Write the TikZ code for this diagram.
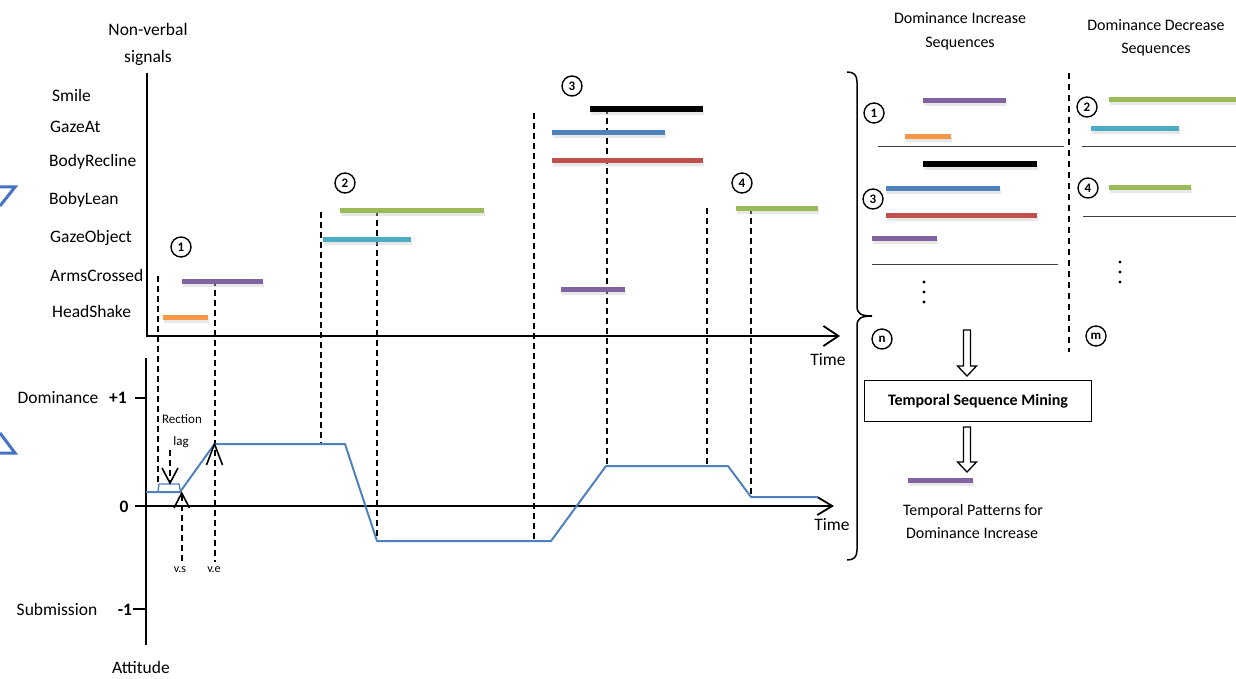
\documentclass[tikz,border=0pt]{standalone}
\usepackage{fontspec}
\setmainfont{Carlito}
\usetikzlibrary{arrows.meta,calc}
\definecolor{cOrange}{HTML}{F79646}
\definecolor{cPurple}{HTML}{8064A2}
\definecolor{cGreen}{HTML}{9BBB59}
\definecolor{cCyan}{HTML}{4BACC6}
\definecolor{cBlue}{HTML}{4F81BD}
\definecolor{cRed}{HTML}{C0504D}
\definecolor{cTri}{HTML}{4472C4}
\newcommand\sigbar[5][5]{%
  \draw[line width=#1pt, gray!45, opacity=.4] (#3+1,#5+3) -- (#4+1,#5+3);
  \draw[line width=#1pt, #2] (#3,#5) -- (#4,#5);}
\newcommand\hollowarrow[2]{%
  \draw[line width=1.3pt, line join=miter, fill=white]
    ($(#1)+(-3.5,0)$) -- ($(#2)+(-3.5,-10)$) -- ($(#2)+(-9.5,-10)$) -- (#2)
    -- ($(#2)+(9.5,-10)$) -- ($(#2)+(3.5,-10)$) -- ($(#1)+(3.5,0)$) -- cycle;}
\begin{document}
\begin{tikzpicture}[x=1pt,y=-1pt, font=\fontsize{17.5}{21}\selectfont,
  txt/.style={inner sep=0pt, text height=13.2pt, text depth=0pt},
  rowlbl/.style={txt, anchor=west},
  axis/.style={line width=1.8pt},
  dline/.style={line width=2pt, dash pattern=on 6pt off 4pt},
  sepline/.style={line width=1pt, black!75},
  circ/.style={circle, draw, line width=1.4pt, minimum size=20pt, inner sep=0pt,
     font=\fontsize{13}{13}\selectfont\bfseries},
  curve/.style={cBlue, line width=2pt, line join=round},
  barb/.style={line width=1.6pt, line join=miter},
  small/.style={inner sep=0pt, text height=9.8pt, text depth=0pt, font=\fontsize{13}{15}\selectfont},
  tiny/.style={inner sep=0pt, text height=9pt, text depth=0pt, font=\fontsize{12}{14}\selectfont},
  mid/.style={inner sep=0pt, text height=12pt, text depth=0pt, font=\fontsize{16}{19}\selectfont}
]
\useasboundingbox (0,0) rectangle (1236,679);

% left partial shapes
\draw[cTri, line width=3pt, line join=miter] (-2,187) -- (15,187) -- (0,206);
\draw[cTri, line width=3pt, line join=miter] (0,433) -- (15,453) -- (-2,453);

% titles
\node[txt] (nv1) at (148,29) {Non-verbal};
\node[txt] (nv2) at (148,56) {signals};

% row labels
\node[rowlbl] (lSmile) at (52,95) {Smile};
\node[rowlbl] (lGazeAt) at (50,126) {GazeAt};
\node[rowlbl] (lRecl) at (49,160) {BodyRecline};
\node[rowlbl] (lLean) at (49,198) {BobyLean};
\node[rowlbl] (lGObj) at (50,236) {GazeObject};
\node[rowlbl] (lArms) at (50,275) {ArmsCrossed};
\node[rowlbl] (lHead) at (52,311) {HeadShake};

% top axes
\coordinate (T1) at (147,73);
\coordinate (O1) at (147,336);
\coordinate (X1) at (840,336);
\draw[axis, -{Straight Barb[length=15pt,width=20pt]}] (T1) -- (O1) -- (X1);
\node[txt] (time1) at (828,359) {Time};

% lower axes
\coordinate (T2) at (146,358);
\coordinate (B2) at (146,645);
\coordinate (O2) at (135,506);
\coordinate (X2) at (834,506);
\draw[axis] (T2) -- (B2);
\draw[axis, -{Straight Barb[length=15pt,width=18pt]}] (O2) -- (X2);
\draw[axis] (135,398) -- (146,398);
\draw[axis] (133,609) -- (146,609);
\node[txt] (time2) at (832,524) {Time};
\node[txt] (ldom) at (58,397) {Dominance};
\node[txt, font=\fontsize{17.5}{21}\selectfont\bfseries] (lp1) at (118,397) {+1};
\node[txt, font=\fontsize{17.5}{21}\selectfont\bfseries] (l0) at (124,506) {0};
\node[txt] (lsub) at (57,609) {Submission};
\node[txt, font=\fontsize{17.5}{21}\selectfont\bfseries] (lm1) at (125,609) {-1};
\node[txt] (latt) at (141,667) {Attitude};

% dashed lines
\draw[dline] (158,276) -- (158,484);
\draw[dline] (214.5,280) -- (214.5,562);
\draw[dline] (170,450) -- (170,481);
\draw[dline] (181.7,495) -- (181.7,562);
\draw[dline] (321,212) -- (321,444);
\draw[dline] (377,210) -- (377,541);
\draw[dline] (534,113) -- (534,541);
\draw[dline] (607,108) -- (607,466);
\draw[dline] (707,208) -- (707,466);
\draw[dline] (751,208) -- (751,497);

% bars top panel
\sigbar{cOrange}{163}{208}{317}
\sigbar{cPurple}{182}{263}{281}
\sigbar{cGreen}{340}{484}{210}
\sigbar{cCyan}{323}{411}{239}
\sigbar[6]{black}{590}{703}{109}
\sigbar{cBlue}{552}{665}{133}
\sigbar{cRed}{552}{703}{161}
\sigbar{cPurple}{561}{625}{289}
\sigbar{cGreen}{736}{818}{208}

% circled numbers
\node[circ, fill=white] (c1) at (181,247) {1};
\node[circ, fill=white] (c2) at (345,183) {2};
\node[circ, fill=white] (c3) at (572,86) {3};
\node[circ, fill=white] (c4) at (742,183) {4};

% dominance curve
\draw[curve] (146,492) -- (180,492) -- (214.5,444) -- (345,444) -- (377,541)
  -- (551,541) -- (606,466) -- (728,466) -- (751,497) -- (818,497);
\draw[cBlue, line width=1.3pt, line join=round] (158,492) -- (159,484) -- (179,484) -- (180.5,492);

% reaction lag arrows
\draw[barb] (162,468) -- (170,483) -- (178,468);
\draw[barb] (174,508) -- (181.7,493) -- (189.5,508);
\draw[barb] (206.5,465) -- (214.5,444) -- (222.5,465);
\node[small] (rl1) at (182,419) {Rection};
\node[small] (rl2) at (181,441) {lag};
\node[tiny] (vs) at (180,568) {v.s};
\node[tiny] (ve) at (214,568) {v.e};

% brace
\draw[line width=1.5pt] (847,72) .. controls (854,72) and (857,75) .. (857,82)
  -- (857,306) .. controls (857,313) and (860,316) .. (872,316)
  .. controls (860,316) and (857,319) .. (857,326)
  -- (857,550) .. controls (857,557) and (854,560) .. (847,560);

% right headings
\node[mid] (hinc1) at (960,18) {Dominance Increase};
\node[mid] (hinc2) at (960,42) {Sequences};
\node[mid] (hdec1) at (1156,25) {Dominance Decrease};
\node[mid] (hdec2) at (1156,48) {Sequences};

% right dashed divider
\draw[line width=1.5pt, dash pattern=on 6pt off 5pt] (1069,73) -- (1069,352);

% increase sequences
\sigbar{cPurple}{923}{1006}{101}
\sigbar{cOrange}{905}{951}{137}
\draw[sepline] (878,147) -- (1064,147);
\sigbar[6]{black}{923}{1037}{164}
\sigbar{cBlue}{886}{1000}{189}
\sigbar{cRed}{886}{1037}{215}
\sigbar{cPurple}{872}{937}{238}
\draw[sepline] (872,264) -- (1058,264);
\foreach \yy in {282,292,302} \fill (924,\yy) circle (1.6pt);
\node[circ] (r1) at (874,113) {1};
\node[circ] (r3) at (873,199) {3};
\node[circ] (rn) at (882,339) {n};

% decrease sequences
\sigbar{cGreen}{1109}{1240}{100}
\sigbar{cCyan}{1091}{1179}{129}
\draw[sepline] (1082,147) -- (1236,147);
\sigbar{cGreen}{1109}{1191}{188}
\draw[sepline] (1083,216) -- (1236,216);
\foreach \yy in {262,272,282} \fill (1120,\yy) circle (1.6pt);
\node[circ] (r2) at (1087,107) {2};
\node[circ] (r4) at (1088,188) {4};
\node[circ] (rm) at (1096,336) {m};

% mining box and arrows
\node[draw, line width=1pt, minimum width=227pt, minimum height=41pt, inner sep=0pt,
  font=\fontsize{16}{19}\selectfont\bfseries] (tsm) at (978,401) {Temporal Sequence Mining};
\coordinate (a1s) at (967,330);
\coordinate (a1e) at (967,376);
\coordinate (a2s) at (967,427);
\coordinate (a2e) at (967,472);
\hollowarrow{a1s}{a1e}
\hollowarrow{a2s}{a2e}
\sigbar{cPurple}{908}{973}{480}
\node[mid] (tp1) at (973,509) {Temporal Patterns for};
\node[mid] (tp2) at (972,532) {Dominance Increase};
\end{tikzpicture}
\end{document}
